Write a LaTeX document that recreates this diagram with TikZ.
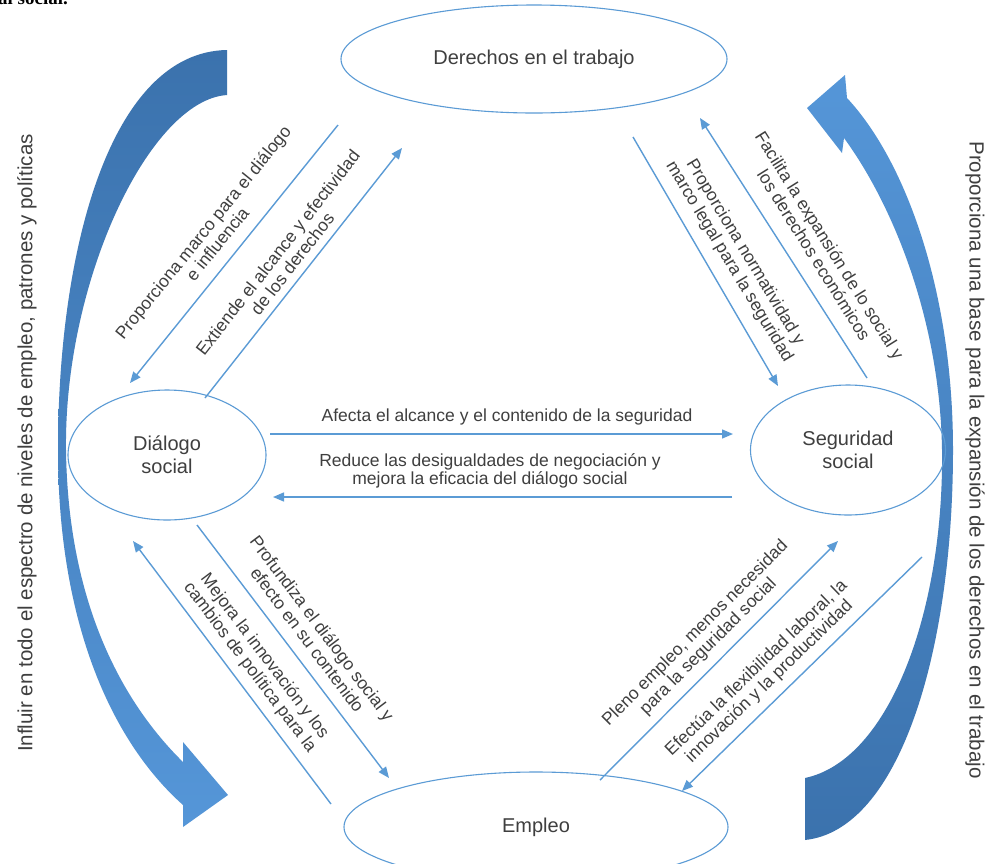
\documentclass[tikz,border=0pt]{standalone}
\usepackage{fontspec}
\setmainfont{Liberation Sans}
\newfontfamily\cutserif{Liberation Serif}
\usetikzlibrary{arrows.meta,shapes.geometric}
\definecolor{lnblue}{HTML}{5B9BD5}
\definecolor{txtgray}{HTML}{3F3F3F}
\definecolor{arrdark}{HTML}{3B72AD}
\definecolor{arrlight}{HTML}{5596D8}
\begin{document}
\begin{tikzpicture}[x=1pt,y=-1pt,
  every node/.style={text=txtgray},
  elnode/.style={ellipse, draw=lnblue, line width=1.1pt, inner sep=0pt, font=\fontsize{20}{23}\selectfont, align=center},
  conn/.style={draw=lnblue, line width=1.4pt, -{Triangle[length=11pt,width=9pt]}},
  lbl/.style={font=\fontsize{17.5}{18.5}\selectfont, align=center, inner sep=0pt},
  side/.style={font=\fontsize{20.5}{22}\selectfont, inner sep=0pt}]
\useasboundingbox (0,0) rectangle (996,863);
\fill[white] (0,0) rectangle (996,863);

% fragment of text cut at the top
\node[anchor=base west, inner sep=0pt, text=black, font=\cutserif\bfseries\fontsize{19}{22}\selectfont] (frag) at (-2,4) {al social.};

% big curved arrows
\shade[top color=arrdark, bottom color=arrlight]
  (227,50) .. controls (110,52) and (58,250) .. (58,450)
  .. controls (58,620) and (110,740) .. (183,805)
  -- (183,827) -- (228,795) -- (183,742) -- (183,762)
  .. controls (120,700) and (68,600) .. (66,450)
  .. controls (64,280) and (150,100) .. (227,95) -- cycle;
\shade[top color=arrlight, bottom color=arrdark]
  (805,840) .. controls (900,830) and (953,650) .. (953,450)
  .. controls (953,290) and (905,160) .. (847,98)
  -- (845,75) -- (807,108) -- (842,153) -- (844,138)
  .. controls (893,205) and (940,320) .. (942,450)
  .. controls (944,610) and (890,760) .. (805,778) -- cycle;

% ellipses
\node[elnode, minimum width=386, minimum height=108] (der) at (534,59) {Derechos en el trabajo};
\node[elnode, minimum width=198, minimum height=130] (dia) at (167,455) {Diálogo\\social};
\node[elnode, minimum width=195, minimum height=130] (seg) at (848,450) {Seguridad\\social};
\node[elnode, minimum width=384, minimum height=110] (emp) at (536,827) {Empleo};

% connector end points
\coordinate (c1s) at (338,125); \coordinate (c1e) at (130,383);
\coordinate (c2s) at (205,398); \coordinate (c2e) at (402,148);
\coordinate (c3s) at (633,137); \coordinate (c3e) at (778,386);
\coordinate (c4s) at (867,378); \coordinate (c4e) at (700,118);
\coordinate (c5s) at (270,434); \coordinate (c5e) at (733,434);
\coordinate (c6s) at (732,497); \coordinate (c6e) at (273,497);
\coordinate (c7s) at (197,525); \coordinate (c7e) at (389,778);
\coordinate (c8s) at (331,804); \coordinate (c8e) at (133,541);
\coordinate (c9s) at (600,780); \coordinate (c9e) at (838,541);
\coordinate (c10s) at (922,557); \coordinate (c10e) at (682,791);

\draw[conn] (c1s) -- (c1e);
\draw[conn] (c2s) -- (c2e);
\draw[conn] (c3s) -- (c3e);
\draw[conn] (c4s) -- (c4e);
\draw[conn] (c5s) -- (c5e);
\draw[conn] (c6s) -- (c6e);
\draw[conn] (c7s) -- (c7e);
\draw[conn] (c8s) -- (c8e);
\draw[conn] (c9s) -- (c9e);
\draw[conn] (c10s) -- (c10e);

% labels
\node[lbl, rotate=51] (l1) at (210,238) {Proporciona marco para el diálogo\\e influencia};
\node[lbl, rotate=52] (l2) at (285,258) {Extiende el alcance y efectividad\\de los derechos};
\node[lbl, rotate=-58] (l3) at (822,250) {Facilita la expansión de lo social y\\los derechos económicos};
\node[lbl, rotate=-59] (l4) at (737,257) {Proporciona normatividad y\\marco legal para la seguridad};
\node[lbl] (l5) at (507,417) {Afecta el alcance y el contenido de la seguridad};
\node[lbl] (l6) at (490,471) {Reduce las desigualdades de negociación y\\mejora la eficacia del diálogo social};
\node[lbl, rotate=-53] (l7) at (315,634) {Profundiza el diálogo social y\\efecto en su contenido};
\node[lbl, rotate=-53] (l8) at (257,662) {Mejora la innovación y los\\cambios de política para la};
\node[lbl, rotate=45] (l9) at (702,640) {Pleno empleo, menos necesidad\\para la seguridad social};
\node[lbl, rotate=44] (l10) at (763,675) {Efectúa la flexibilidad laboral, la\\innovación y la productividad};

% side texts
\node[side, rotate=90] (sl) at (27,443) {Influir en todo el espectro de niveles de empleo, patrones y políticas};
\node[side, rotate=-90] (sr) at (975,460) {Proporciona una base para la expansión de los derechos en el trabajo};
\end{tikzpicture}
\end{document}
